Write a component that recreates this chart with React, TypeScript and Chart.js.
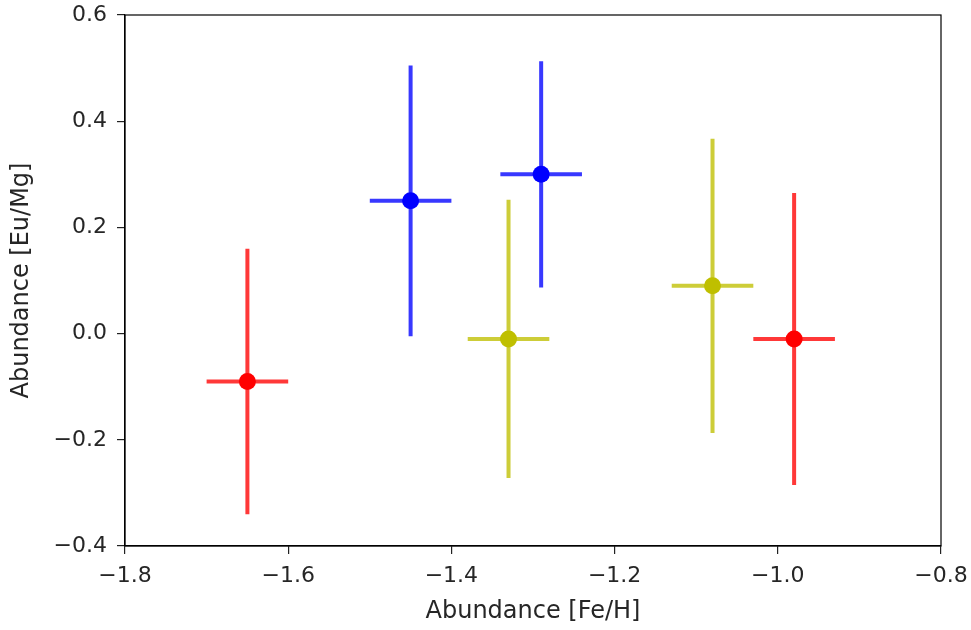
import React, { useEffect, useRef } from "react";
import { Chart, registerables } from "chart.js";

Chart.register(...registerables);

// Red series
const redX = [-1.65, -0.98];
const redY = [-0.09, -0.01];
const redXErr = [0.05, 0.05];
const redYErr = [0.25, 0.275];

// Blue series
const blueX = [-1.45, -1.29];
const blueY = [0.25, 0.3];
const blueXErr = [0.05, 0.05];
const blueYErr = [0.255, 0.213];

// Yellow series
const yellowX = [-1.33, -1.08];
const yellowY = [-0.01, 0.09];
const yellowXErr = [0.05, 0.05];
const yellowYErr = [0.262, 0.277];

const xTicks = [-1.8, -1.6, -1.4, -1.2, -1.0, -0.8];
const yTicks = [-0.4, -0.2, 0.0, 0.2, 0.4, 0.6];

const xLabel = "Abundance [Fe/H]";
const yLabel = "Abundance [Eu/Mg]";

const FONT = "'DejaVu Sans', sans-serif";

function build(xs: number[], ys: number[], xe: number[], ye: number[]) {
  return xs.map((x, i) => ({ x, y: ys[i], xe: xe[i], ye: ye[i] }));
}

const fmt = (v: number) => {
  const s = Number(v).toFixed(1);
  return s.replace("-", "\u2212");
};

export default function App() {
  const ref = useRef<HTMLCanvasElement | null>(null);

  useEffect(() => {
    if (!ref.current) return;

    const errorBars = {
      id: "errorBars",
      beforeDatasetsDraw(chart: any) {
        const ctx = chart.ctx;
        const xs = chart.scales.x;
        const ysc = chart.scales.y;
        chart.data.datasets.forEach((ds: any) => {
          ctx.save();
          ctx.strokeStyle = ds.errColor;
          ctx.lineWidth = 4;
          ctx.lineCap = "butt";
          ds.data.forEach((p: any) => {
            const px = xs.getPixelForValue(p.x);
            const py = ysc.getPixelForValue(p.y);
            ctx.beginPath();
            ctx.moveTo(xs.getPixelForValue(p.x - p.xe), py);
            ctx.lineTo(xs.getPixelForValue(p.x + p.xe), py);
            ctx.moveTo(px, ysc.getPixelForValue(p.y - p.ye));
            ctx.lineTo(px, ysc.getPixelForValue(p.y + p.ye));
            ctx.stroke();
          });
          ctx.restore();
        });
      },
      afterDraw(chart: any) {
        const { ctx, chartArea } = chart;
        ctx.save();
        ctx.strokeStyle = "#000";
        ctx.lineWidth = 1.2;
        ctx.strokeRect(
          chartArea.left,
          chartArea.top,
          chartArea.right - chartArea.left,
          chartArea.bottom - chartArea.top
        );
        ctx.restore();
      },
    };

    const chart = new Chart(ref.current, {
      type: "scatter",
      data: {
        datasets: [
          {
            label: "red",
            data: build(redX, redY, redXErr, redYErr),
            backgroundColor: "#ff0000",
            borderWidth: 0,
            pointRadius: 8.5,
            errColor: "rgba(255,0,0,0.78)",
          } as any,
          {
            label: "blue",
            data: build(blueX, blueY, blueXErr, blueYErr),
            backgroundColor: "#0000ff",
            borderWidth: 0,
            pointRadius: 8.5,
            errColor: "rgba(0,0,255,0.78)",
          } as any,
          {
            label: "yellow",
            data: build(yellowX, yellowY, yellowXErr, yellowYErr),
            backgroundColor: "#bfbf00",
            borderWidth: 0,
            pointRadius: 8.5,
            errColor: "rgba(191,191,0,0.78)",
          } as any,
        ],
      },
      options: {
        animation: false,
        responsive: false,
        maintainAspectRatio: false,
        layout: { padding: { top: 15, right: 30, left: 0, bottom: 0 } },
        plugins: { legend: { display: false }, tooltip: { enabled: false } },
        scales: {
          x: {
            type: "linear",
            min: -1.8,
            max: -0.8,
            afterFit: (s: any) => {
              s.height = 84;
              s.paddingLeft = 0;
              s.paddingRight = 0;
            },
            afterBuildTicks: (s: any) => {
              s.ticks = xTicks.map((v) => ({ value: v }));
            },
            ticks: {
              color: "#262626",
              font: { family: FONT, size: 22 },
              padding: 9,
              maxRotation: 0,
              autoSkip: false,
              callback: (v: any) => fmt(v),
            },
            grid: {
              drawOnChartArea: false,
              drawTicks: true,
              tickLength: 8,
              color: "#222",
              lineWidth: 1.2,
            },
            border: { display: true, color: "#000", width: 1.2 },
            title: {
              display: true,
              text: xLabel,
              color: "#262626",
              font: { family: FONT, size: 24 },
              padding: { top: 0, bottom: 4 },
            },
          },
          y: {
            type: "linear",
            min: -0.4,
            max: 0.6,
            afterFit: (s: any) => {
              s.width = 125;
              s.paddingTop = 0;
              s.paddingBottom = 0;
            },
            afterBuildTicks: (s: any) => {
              s.ticks = yTicks.map((v) => ({ value: v }));
            },
            ticks: {
              color: "#262626",
              font: { family: FONT, size: 22 },
              padding: 10,
              autoSkip: false,
              callback: (v: any) => fmt(v),
            },
            grid: {
              drawOnChartArea: false,
              drawTicks: true,
              tickLength: 8,
              color: "#222",
              lineWidth: 1.2,
            },
            border: { display: true, color: "#000", width: 1.2 },
            title: {
              display: true,
              text: yLabel,
              color: "#262626",
              font: { family: FONT, size: 24 },
              padding: { top: 7, bottom: 0 },
            },
          },
        },
      } as any,
      plugins: [errorBars],
    });

    return () => chart.destroy();
  }, []);

  return (
    <div style={{ position: "fixed", left: 0, top: 0, width: 971, height: 630, background: "#fff" }}>
      <canvas ref={ref} width={971} height={630} style={{ width: 971, height: 630 }} />
    </div>
  );
}
